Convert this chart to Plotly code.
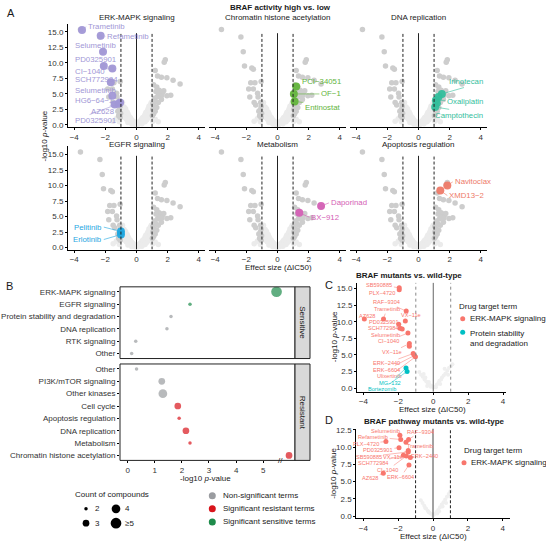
import plotly.graph_objects as go

W, H = 546, 544
FONT = "Liberation Sans, Arial, sans-serif"
TXT = "#1a1a1a"
TICK = "#333333"


def px_x(p):
    return p / W


def px_y(p):
    return 1 - p / H


def xid(i):
    return "x" if i == 1 else f"x{i}"


def yid(i):
    return "y" if i == 1 else f"y{i}"


def xkey(i):
    return "xaxis" if i == 1 else f"xaxis{i}"


def ykey(i):
    return "yaxis" if i == 1 else f"yaxis{i}"


# ======================= DATA =======================
# Panel A: background compounds (significant, darker grey)
bg_sig_x = [-3.6, -2.35, -2.2, -2.12, -1.65, -1.55, -1.72, -1.45, -1.05, -1.85, -1.55, -1.28,
            -1.78, -1.25, -1.5, -1.4, -1.08, -1.05, -1.1, -1.2, -1.02, -1.15, -1.05,
            1.85, 1.78, 1.2, 1.35, 1.6, 1.95, 2.35, 2.8,
            1.1, 1.3, 1.45, 1.55, 1.65, 1.4, 1.75, 1.5,
            1.35, 1.6, 1.95, 2.2, 1.15, 1.25, 1.05, 1.4,
            1.15, 1.3, 1.05, 1.2, 1.1, 1.02, 1.6, 1.25]
bg_sig_y = [15.4, 14.2, 11.8, 9.5, 9.2, 9.0, 6.8, 6.8, 7.0, 5.8, 5.8, 5.1,
            4.5, 4.5, 3.6, 3.2, 3.6, 3.0, 2.5, 2.2, 1.9, 1.5, 1.2,
            10.5, 10.1, 8.8, 7.9, 7.7, 7.6, 7.2, 6.6,
            6.5, 6.1, 5.6, 5.4, 5.1, 5.2, 5.5, 4.9,
            4.6, 4.7, 4.7, 4.8, 4.3, 3.8, 3.4, 3.6,
            3.0, 2.8, 2.5, 2.2, 1.8, 1.5, 4.1, 5.4]
# Panel A: background compounds (non-significant, light grey)
bg_ns_x = [-0.95, -0.9, -0.85, -0.8, -0.75, -0.7, -0.7, -0.65, -0.6, -0.6, -0.55, -0.5, -0.5,
           -0.45, -0.4, -0.4, -0.35, -0.3, -0.3, -0.25, -0.2, -0.2, -0.15, -0.1, -0.1, -0.05,
           0.0, 0.05, 0.1, 0.1, 0.15, 0.2, 0.2, 0.25, 0.3, 0.3, 0.35, 0.4, 0.4, 0.45, 0.5, 0.5,
           0.55, 0.6, 0.6, 0.65, 0.7, 0.7, 0.75, 0.8, 0.8, 0.85, 0.9, 0.9, 0.95, 0.95,
           -0.9, -0.98, -0.85, -0.75, -0.65, 0.85, 0.75, 0.65, -1.3, -1.5, 1.2, 1.4, -1.1, 1.05,
           -0.55, 0.55, -0.3, 0.35]
bg_ns_y = [3.2, 2.8, 2.5, 2.9, 2.2, 1.9, 2.6, 1.6, 2.1, 1.3, 1.8, 1.1, 1.5,
           0.9, 1.2, 0.7, 0.9, 0.5, 0.8, 0.4, 0.6, 0.3, 0.2, 0.35, 0.1, 0.15,
           0.05, 0.2, 0.1, 0.3, 0.4, 0.25, 0.6, 0.5, 0.8, 0.4, 1.0, 0.7, 1.2, 0.9, 1.4, 1.0,
           1.7, 1.3, 2.0, 1.6, 2.3, 1.8, 2.6, 2.1, 3.0, 2.5, 3.3, 2.2, 2.8, 3.6,
           3.6, 2.0, 1.6, 1.2, 0.9, 1.5, 1.1, 0.8, 1.0, 0.6, 0.9, 0.5, 0.5, 0.6,
           0.4, 0.5, 0.15, 0.2]

a_terms = ["ERK-MAPK signaling", "Chromatin histone acetylation", "DNA replication",
           "EGFR signaling", "Metabolism", "Apoptosis regulation"]
a_colors = ["#A197D6", "#62B43B", "#33BE9C", "#1FA6DF", "#D460B5", "#EE7A68"]

erk_names = ["Trametinib", "Refametinib", "Selumetinib", "PD0325901", "CI−1040", "SCH772984",
             "Selumetinib", "HG6−64−1", "AZ628", "PD0325901"]
erk_x = [-3.5, -2.3, -2.15, -2.1, -1.55, -1.65, -1.55, -1.05, -1.4, -1.15]
erk_y = [15.3, 14.4, 11.8, 9.5, 9.1, 6.9, 4.7, 3.6, 3.3, 3.4]

chrom_names = ["PCI−34051", "OF−1", "Entinostat"]
chrom_x = [1.2, 1.05, 1.1]
chrom_y = [6.2, 5.0, 3.8]

dna_names = ["Irinotecan", "", "Oxaliplatin", "", "Camptothecin"]
dna_x = [1.5, 1.28, 1.12, 1.18, 1.07]
dna_y = [5.0, 4.5, 4.0, 3.5, 2.9]

egfr_names = ["Pelitinib", "Erlotinib"]
egfr_x = [-1.0, -1.0]
egfr_y = [2.6, 2.1]

metab_names = ["Daporinad", "BX−912"]
metab_x = [2.8, 1.4]
metab_y = [6.7, 5.6]

apop_names = ["Navitoclax", "XMD13−2"]
apop_x = [1.85, 1.4]
apop_y = [10.0, 9.2]

# Panel B: term enrichment
sens_terms = ["ERK-MAPK signaling", "EGFR signaling", "Protein stability and degradation",
              "DNA replication", "RTK signaling", "Other"]
sens_logp = [5.49, 2.3, 1.6, 1.45, 0.3, 0.15]
sens_count = [5, 2, 2, 2, 2, 2]
sens_class = ["sens", "sens", "ns", "ns", "ns", "ns"]

res_terms = ["Other", "PI3K/mTOR signaling", "Other kinases", "Cell cycle",
             "Apoptosis regulation", "DNA replication", "Metabolism",
             "Chromatin histone acetylation"]
res_logp = [0.33, 1.26, 1.3, 1.85, 1.9, 2.15, 2.3, 5.95]
res_count = [2, 3, 4, 3, 2, 3, 2, 3]
res_class = ["ns", "ns", "ns", "res", "res", "res", "res", "res"]

# Panel C: BRAF mutants vs wild-type
c_names = ["SB590885", "PLX−4720", "RAF−9304", "Trametinib", "VX−11e", "AZ628", "PD0325901",
           "SCH772984", "Selumetinib", "CI−1040", "VX−11e", "", "ERK−2440", "ERK−6604",
           "Ulixertinib", "MG−132", "Bortezomib"]
c_term = ["ERK"] * 15 + ["PSD", "PSD"]
c_x = [-1.95, -1.95, -1.55, -2.85, -1.6, -3.95, -1.98, -1.9, -1.78, -1.45, -1.37, -1.37,
       -1.15, -1.08, -1.02, -1.56, -1.5]
c_y = [15.1, 14.8, 11.6, 10.4, 10.1, 10.4, 9.6, 9.0, 8.9, 8.3, 6.7, 6.3,
       5.2, 4.9, 4.7, 3.0, 2.5]
c_bg_x = [-0.7, -0.6, -0.5, -0.45, -0.4, -0.3, -0.25, -0.2, -0.1, 0.0, 0.1, 0.2, 0.3, 0.35,
          0.45, 0.5, 0.6, 0.7, 0.8, 0.9, 1.0, 1.1, -0.8, -0.55, 0.65, 0.85, 0.4, -0.35, 0.15, -0.15]
c_bg_y = [2.0, 1.7, 1.3, 1.6, 1.0, 0.7, 0.9, 0.5, 0.3, 0.1, 0.2, 0.5, 0.8, 1.1,
          1.3, 1.6, 1.9, 2.2, 2.6, 3.0, 3.3, 3.6, 2.4, 2.1, 2.9, 2.0, 0.6, 0.3, 0.1, 0.2]

# Panel D: BRAF pathway mutants vs wild-type
d_names = ["Selumetinib", "Refametinib", "RAF−9304", "Trametinib", "PLX−4720", "PD0325901",
           "VX−11e", "SB590885", "SCH772984", "CI−1040", "ERK−2440", "ERK−6604", "AZ628"]
d_x = [-1.9, -1.85, -1.4, -1.55, -2.7, -1.95, -1.42, -1.42, -1.7, -1.53, -1.3, -1.38, -2.85]
d_y = [11.7, 11.1, 11.1, 10.7, 10.8, 9.9, 9.5, 9.3, 8.8, 8.7, 8.5, 7.4, 6.2]
d_bg_x = [-0.7, -0.6, -0.5, -0.4, -0.3, -0.2, -0.1, 0.0, 0.1, 0.2, 0.3, 0.4, 0.5, 0.6,
          0.7, 0.8, 0.9, 1.0, -0.45, 0.55, 0.25, -0.25, 0.75, 0.35]
d_bg_y = [2.3, 1.9, 1.5, 1.1, 0.8, 0.5, 0.3, 0.1, 0.3, 0.6, 0.9, 1.3, 1.7, 2.0,
          2.4, 2.8, 3.2, 3.6, 1.2, 1.4, 0.4, 0.6, 1.9, 0.7]

# ======================= LABEL PLACEMENT (layout only) =======================
erk_lab = dict(x=[-3.23, -2.0, -4.06, -4.06, -4.06, -4.06, -4.06, -4.06, -3.04, -4.06],
               y=[15.85, 14.3, 12.8, 10.6, 8.7, 7.4, 5.5, 3.9, 2.1, 0.7], anchor="left")
chrom_lab = dict(x=[4.2, 4.2, 4.2], y=[7.0, 5.0, 2.8], anchor="right")
dna_lab = dict(x=[4.25, 4.25, 4.25, 4.25, 4.25], y=[7.0, 0, 3.75, 0, 1.55], anchor="right")
egfr_lab = dict(x=[-2.1, -2.1], y=[3.3, 1.3], anchor="right")
metab_lab = dict(x=[3.3, 2.05], y=[7.2, 4.9], anchor="left")
apop_lab = dict(x=[2.2, 1.85], y=[10.6, 8.4], anchor="left")

c_lab_x = [-3.09, -2.91, -2.66, -2.67, -1.25, -3.8, -2.85, -2.9, -2.75, -2.55, -2.37, 0,
           -2.7, -2.7, -2.53, -2.46, -2.93]
c_lab_y = [15.6, 14.3, 12.9, 11.9, 11.0, 10.9, 9.95, 9.0, 8.05, 7.1, 5.4, 0,
           3.7, 2.7, 1.75, 0.8, -0.15]
d_lab_x = [-2.75, -3.43, -0.73, -0.75, -3.85, -3.16, -2.3, -3.7, -3.45, -2.6, -0.49, -1.84, -3.6]
d_lab_y = [12.35, 11.45, 12.2, 10.1, 10.5, 9.55, 8.6, 8.6, 7.65, 6.7, 8.7, 5.7, 5.5]

# ======================= FIGURE =======================
FS = 8        # general text
TFS = 8       # tick labels
LFS = 7.8     # panel A compound labels
SFS = 5.6     # panels C/D compound labels
fig = go.Figure()
layout = dict(width=W, height=H, margin=dict(l=0, r=0, t=0, b=0),
              paper_bgcolor="white", plot_bgcolor="white", showlegend=False,
              font=dict(family=FONT, size=FS, color=TXT))
shapes = []
annos = []


def ann(text, x, y, size=FS, color=TXT, xanchor="center", yanchor="middle", angle=0, **kw):
    annos.append(dict(text=text, x=x, y=y, xref=kw.pop("xref", "paper"), yref=kw.pop("yref", "paper"),
                      showarrow=False, xanchor=xanchor, yanchor=yanchor, textangle=angle,
                      font=dict(family=FONT, size=size, color=color), **kw))


def dot(cx, cy, d, color):
    shapes.append(dict(type="circle", xref="paper", yref="paper", xsizemode="pixel",
                       ysizemode="pixel", xanchor=px_x(cx), yanchor=px_y(cy),
                       x0=-d / 2, x1=d / 2, y0=-d / 2, y1=d / 2,
                       fillcolor=color, line=dict(width=0)))


def axis_common(**kw):
    d = dict(showgrid=False, zeroline=False, showline=True, linecolor="black", linewidth=1,
             ticks="outside", ticklen=2, tickwidth=1, tickcolor="black",
             tickfont=dict(family=FONT, size=TFS, color=TICK))
    d.update(kw)
    return d


SIG_COL = "#CDCDCD"
NS_COL = "#EBEBEB"

# ---------- Panel A ----------
a_cols = [(68, 205), (209, 346), (350, 487)]
a_rows = [(21, 125.3), (145, 249.3)]
a_yrange = [-0.32, 16.32]
hl = [(erk_names, erk_x, erk_y, erk_lab), (chrom_names, chrom_x, chrom_y, chrom_lab),
      (dna_names, dna_x, dna_y, dna_lab), (egfr_names, egfr_x, egfr_y, egfr_lab),
      (metab_names, metab_x, metab_y, metab_lab), (apop_names, apop_x, apop_y, apop_lab)]
title_y = [14.5, 143.5]

for i in range(6):
    ai = i + 1
    r, c = divmod(i, 3)
    x0, x1 = a_cols[c]
    yt, yb = a_rows[r]
    layout[xkey(ai)] = axis_common(domain=[px_x(x0), px_x(x1)], range=[-4.4, 4.4],
                                   tickvals=[-4, -2, 0, 2, 4], anchor=yid(ai))
    if c == 0:
        layout[ykey(ai)] = axis_common(domain=[px_y(yb), px_y(yt)], range=a_yrange,
                                       tickvals=[0, 2.5, 5, 7.5, 10, 12.5, 15],
                                       tickformat=".1f", anchor=xid(ai))
    else:
        layout[ykey(ai)] = axis_common(domain=[px_y(yb), px_y(yt)], range=a_yrange,
                                       showline=False, ticks="", showticklabels=False,
                                       anchor=xid(ai))
    fig.add_trace(go.Scatter(x=bg_ns_x, y=bg_ns_y, mode="markers", xaxis=xid(ai), yaxis=yid(ai),
                             marker=dict(size=5.5, color=NS_COL, line=dict(width=0))))
    fig.add_trace(go.Scatter(x=bg_sig_x, y=bg_sig_y, mode="markers", xaxis=xid(ai), yaxis=yid(ai),
                             marker=dict(size=5.5, color=SIG_COL, line=dict(width=0))))
    names, hx, hy, lab = hl[i]
    col = a_colors[i]
    fig.add_trace(go.Scatter(x=hx, y=hy, mode="markers", xaxis=xid(ai), yaxis=yid(ai),
                             marker=dict(size=8, color=col, opacity=0.95, line=dict(width=0))))
    for k, nm in enumerate(names):
        if not nm:
            continue
        annos.append(dict(x=hx[k], y=hy[k], xref=xid(ai), yref=yid(ai),
                          ax=lab["x"][k], ay=lab["y"][k], axref=xid(ai), ayref=yid(ai),
                          text=nm, showarrow=True, arrowhead=0, arrowwidth=0.6,
                          arrowcolor=col, standoff=4, xanchor=lab["anchor"], yanchor="middle",
                          font=dict(family=FONT, size=LFS, color=col)))
    # reference lines
    for xv, dash in [(0, "solid"), (-1, "3px,2px"), (1, "3px,2px")]:
        shapes.append(dict(type="line", xref=xid(ai), yref=yid(ai), x0=xv, x1=xv,
                           y0=a_yrange[0], y1=14.8,
                           line=dict(color="#222222", width=1, dash=dash)))
    ann(a_terms[i], px_x((x0 + x1) / 2), px_y(title_y[r]), size=FS)

ann("<b>BRAF activity high vs. low</b>", px_x(280), px_y(4.5), size=FS)
ann("Effect size (ΔIC50)", px_x(278), px_y(267), size=FS)
ann("-log10 <i>p</i>-value", px_x(45), px_y(135), size=FS, angle=-90)
ann("A", px_x(5), px_y(10), size=11, xanchor="left")

# ---------- Panel B ----------
bx0, bx1 = 120, 295
b_xrange = [-0.28, 6.17]
b_top = (287, 359.5)
b_bot = (365, 462.5)
size_map = {2: 3.5, 3: 6.7, 4: 8.7, 5: 10.7}
col_map = {"ns": "#9A9CA0", "res": "#D8141B", "sens": "#1E8B4B"}

layout["xaxis7"] = axis_common(domain=[px_x(bx0), px_x(bx1)], range=b_xrange, showline=False,
                               ticks="", showticklabels=False, anchor="y7")
layout["yaxis7"] = axis_common(domain=[px_y(b_top[1]), px_y(b_top[0])],
                               tickvals=list(range(len(sens_terms))), ticktext=sens_terms,
                               range=[5.4, -0.4], anchor="x7", showline=False)
layout["xaxis8"] = axis_common(domain=[px_x(bx0), px_x(bx1)], range=b_xrange,
                               tickvals=[0, 1, 2, 3, 4, 5], anchor="y8", showline=False)
layout["yaxis8"] = axis_common(domain=[px_y(b_bot[1]), px_y(b_bot[0])],
                               tickvals=list(range(len(res_terms))), ticktext=res_terms,
                               range=[7.4, -0.4], anchor="x8", showline=False)

fig.add_trace(go.Scatter(x=sens_logp, y=list(range(len(sens_terms))), mode="markers",
                         xaxis="x7", yaxis="y7",
                         marker=dict(size=[size_map[v] for v in sens_count],
                                     color=[col_map[v] for v in sens_class], line=dict(width=0))))
fig.add_trace(go.Scatter(x=res_logp, y=list(range(len(res_terms))), mode="markers",
                         xaxis="x8", yaxis="y8",
                         marker=dict(size=[size_map[v] for v in res_count],
                                     color=[col_map[v] for v in res_class], line=dict(width=0))))
for ax in ["7", "8"]:
    shapes.append(dict(type="rect", xref=f"x{ax} domain", yref=f"y{ax} domain", x0=0, x1=1,
                       y0=0, y1=1, line=dict(color="#222222", width=1)))
for (yt, yb), lbl in [(b_top, "Sensitive"), (b_bot, "Resistant")]:
    shapes.append(dict(type="rect", xref="paper", yref="paper", x0=px_x(bx1), x1=px_x(310),
                       y0=px_y(yb), y1=px_y(yt), fillcolor="#D9D9D9",
                       line=dict(color="#222222", width=1)))
    ann(lbl, px_x(302.5), px_y((yt + yb) / 2), size=FS, angle=90)
ann("//", 5.65, px_y(b_bot[1]), xref="x8", size=8)
ann("-log10 <i>p</i>-value", px_x(205), px_y(481), size=FS)
ann("B", px_x(4), px_y(286), size=11, xanchor="left")

# size legend
ann("Count of compounds", px_x(111.5), px_y(497), size=FS)
for cx, cy, cnt, lbl in [(86, 511.5, 2, "2"), (116, 511.5, 4, "4"), (86, 526, 3, "3"), (116, 526, 5, "≥5")]:
    dot(cx, cy, size_map[cnt], "black")
    ann(lbl, px_x(cx + 7), px_y(cy), size=FS, xanchor="left")
# colour legend
for cy, key, lbl in [(498.3, "ns", "Non-significant terms"), (511.3, "res", "Significant resistant terms"),
                     (524.7, "sens", "Significant sensitive terms")]:
    dot(212.3, cy, 7, col_map[key])
    ann(lbl, px_x(221), px_y(cy), size=FS, xanchor="left")

# ---------- Panel C ----------
C_ERK, C_PSD = "#F8766D", "#00BFC4"
layout["xaxis9"] = axis_common(domain=[px_x(357), px_x(505.5)], range=[-4.37, 4.14],
                               tickvals=[-4, -2, 0, 2, 4], anchor="y9")
layout["yaxis9"] = axis_common(domain=[px_y(393), px_y(283)], range=[-0.55, 15.85],
                               tickvals=[0, 2.5, 5, 7.5, 10, 12.5, 15], tickformat=".1f",
                               anchor="x9")
fig.add_trace(go.Scatter(x=c_bg_x, y=c_bg_y, mode="markers", xaxis="x9", yaxis="y9",
                         marker=dict(size=4, color="#EFEFEF", line=dict(width=0))))
for xv, dash, colr in [(0, "solid", "#666666"), (-1, "3px,3px", "#888888"), (1, "3px,3px", "#888888")]:
    shapes.append(dict(type="line", xref="x9", yref="y9 domain", x0=xv, x1=xv, y0=0, y1=1,
                       line=dict(color=colr, width=1, dash=dash)))
c_cols = [C_ERK if t == "ERK" else C_PSD for t in c_term]
fig.add_trace(go.Scatter(x=c_x, y=c_y, mode="markers", xaxis="x9", yaxis="y9",
                         marker=dict(size=5, color=c_cols, line=dict(width=0))))
for k, nm in enumerate(c_names):
    if not nm:
        continue
    annos.append(dict(x=c_x[k], y=c_y[k], xref="x9", yref="y9", ax=c_lab_x[k], ay=c_lab_y[k],
                      axref="x9", ayref="y9", text=nm, showarrow=True, arrowhead=0,
                      arrowwidth=0.5, arrowcolor=c_cols[k], standoff=2,
                      font=dict(family=FONT, size=SFS, color=c_cols[k])))
ann("<b>BRAF mutants vs. wild-type</b>", px_x(409), px_y(276), size=FS)
ann("Effect size (ΔIC50)", px_x(432), px_y(411.5), size=FS)
ann("-log10 <i>p</i>-value", px_x(334), px_y(338), size=FS, angle=-90)
ann("C", px_x(323), px_y(285), size=11, xanchor="left")
ann("Drug target term", px_x(457), px_y(307), size=FS, xanchor="left")
dot(462.7, 319.3, 5, C_ERK)
ann("ERK-MAPK signaling", px_x(468), px_y(319.3), size=FS, xanchor="left")
dot(462.7, 333, 5, C_PSD)
ann("Protein stability<br>and degradation", px_x(468), px_y(327.3), size=FS, xanchor="left",
    yanchor="top", align="left")

# ---------- Panel D ----------
layout["xaxis10"] = axis_common(domain=[px_x(356.3), px_x(509.7)], range=[-4.4, 4.4],
                                tickvals=[-4, -2, 0, 2, 4], anchor="y10")
layout["yaxis10"] = axis_common(domain=[px_y(521), px_y(430.5)], range=[-0.3, 12.65],
                                tickvals=[0, 2.5, 5, 7.5, 10, 12.5], tickformat=".1f",
                                anchor="x10")
fig.add_trace(go.Scatter(x=d_bg_x, y=d_bg_y, mode="markers", xaxis="x10", yaxis="y10",
                         marker=dict(size=4, color="#EFEFEF", line=dict(width=0))))
for xv, dash in [(0, "solid"), (-1, "3px,2px"), (1, "3px,2px")]:
    shapes.append(dict(type="line", xref="x10", yref="y10 domain", x0=xv, x1=xv, y0=0, y1=1,
                       line=dict(color="#222222" if xv else "#444444", width=1, dash=dash)))
fig.add_trace(go.Scatter(x=d_x, y=d_y, mode="markers", xaxis="x10", yaxis="y10",
                         marker=dict(size=5, color=C_ERK, line=dict(width=0))))
for k, nm in enumerate(d_names):
    annos.append(dict(x=d_x[k], y=d_y[k], xref="x10", yref="y10", ax=d_lab_x[k], ay=d_lab_y[k],
                      axref="x10", ayref="y10", text=nm, showarrow=True, arrowhead=0,
                      arrowwidth=0.5, arrowcolor=C_ERK, standoff=2,
                      font=dict(family=FONT, size=SFS, color=C_ERK)))
ann("<b>BRAF pathway mutants vs. wild-type</b>", px_x(435), px_y(423.5), size=FS)
ann("Effect size (ΔIC50)", px_x(433), px_y(539.5), size=FS)
ann("-log10 <i>p</i>-value", px_x(334), px_y(476), size=FS, angle=-90)
ann("D", px_x(323), px_y(422), size=11, xanchor="left")
ann("Drug target term", px_x(461.7), px_y(452), size=FS, xanchor="left")
dot(464, 465, 5, C_ERK)
ann("ERK-MAPK signaling", px_x(469), px_y(465), size=FS, xanchor="left")

layout["shapes"] = shapes
layout["annotations"] = annos
fig.update_layout(**layout)
fig.write_html("out.html")
